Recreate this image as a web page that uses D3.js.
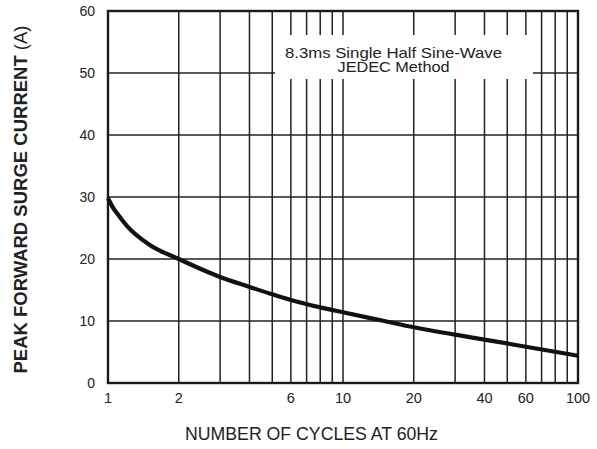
<!DOCTYPE html>
<html>
<head>
<meta charset="utf-8">
<script src="https://cdn.jsdelivr.net/npm/d3@7"></script>
<style>
body { margin: 0; background: #fff; }
text { font-family: Arial, "Liberation Sans", sans-serif; fill: #222; }
</style>
</head>
<body>
<svg id="chart" width="597" height="449"></svg>
<script>
// values
let cycles = [1, 1.05, 1.1, 1.2, 1.5, 2, 3, 4, 5, 6, 8, 10, 15, 20, 30, 40, 60, 100];
let current = [29.8, 28.3, 27.2, 25.4, 22.3, 20.0, 17.1, 15.5, 14.3, 13.4, 12.2, 11.4, 10.0, 9.0, 7.8, 7.0, 5.85, 4.4];

let xGrid = [2, 3, 4, 5, 6, 7, 8, 9, 10, 20, 30, 40, 50, 60, 70, 80, 90];
let xTickLabels = [1, 2, 6, 10, 20, 40, 60, 100];
let yTicks = [0, 10, 20, 30, 40, 50, 60];
let noteLines = ["8.3ms Single Half Sine-Wave", "JEDEC Method"];

let svg = d3.select("svg#chart");
let plotLeft = 108, plotRight = 578, plotTop = 11, plotBottom = 383;

let x = d3.scaleLog().domain([1, 100]).range([plotLeft, plotRight]);
let y = d3.scaleLinear().domain([0, 60]).range([plotBottom, plotTop]);

let grid = svg.append("g").attr("stroke", "#222").attr("stroke-width", 1.5);

grid.selectAll("line.v")
.data(xGrid)
.enter().append("line")
.attr("class", "v")
.attr("x1", d => x(d)).attr("x2", d => x(d))
.attr("y1", plotTop).attr("y2", plotBottom);

grid.selectAll("line.h")
.data(yTicks.slice(1, -1))
.enter().append("line")
.attr("class", "h")
.attr("x1", plotLeft).attr("x2", plotRight)
.attr("y1", d => y(d)).attr("y2", d => y(d));

// white box behind the note
svg.append("rect")
.attr("x", 275).attr("y", 35)
.attr("width", 258).attr("height", 44)
.attr("fill", "#fff");

// the note font is drawn wider than Arial in the original
svg.append("g")
.selectAll("text")
.data(noteLines)
.enter().append("text")
.attr("x", 393.5)
.attr("y", (d, i) => 57.5 + i * 14.5)
.attr("text-anchor", "middle")
.attr("font-size", 14.5)
.attr("textLength", (d, i) => i ? 112 : 217)
.attr("lengthAdjust", "spacingAndGlyphs")
.text(d => d);

// frame
svg.append("rect")
.attr("x", plotLeft).attr("y", plotTop)
.attr("width", plotRight - plotLeft).attr("height", plotBottom - plotTop)
.attr("fill", "none")
.attr("stroke", "#1a1a1a")
.attr("stroke-width", 2.4);

let line = d3.line()
.x((d, i) => x(cycles[i]))
.y(d => y(d))
.curve(d3.curveMonotoneX);

svg.append("path")
.datum(current)
.attr("d", line)
.attr("fill", "none")
.attr("stroke", "#111")
.attr("stroke-width", 4.2);

// axes labels
svg.append("g")
.selectAll("text")
.data(yTicks)
.enter().append("text")
.attr("x", 95)
.attr("y", d => y(d))
.attr("dy", "0.35em")
.attr("text-anchor", "end")
.attr("font-size", 14)
.text(d => d);

svg.append("g")
.selectAll("text")
.data(xTickLabels)
.enter().append("text")
.attr("x", d => x(d))
.attr("y", 402.5)
.attr("text-anchor", "middle")
.attr("font-size", 14.5)
.text(d => d);

svg.append("text")
.attr("x", 311.5)
.attr("y", 440)
.attr("text-anchor", "middle")
.attr("font-size", 17.7)
.text("NUMBER OF CYCLES AT 60Hz");

let yTitle = svg.append("text")
.attr("transform", "translate(27,199.5) rotate(-90)")
.attr("text-anchor", "middle")
.attr("font-size", 18.5);
yTitle.append("tspan").attr("font-weight", "bold").text("PEAK FORWARD SURGE CURRENT");
yTitle.append("tspan").text(" (A)");
</script>
</body>
</html>
